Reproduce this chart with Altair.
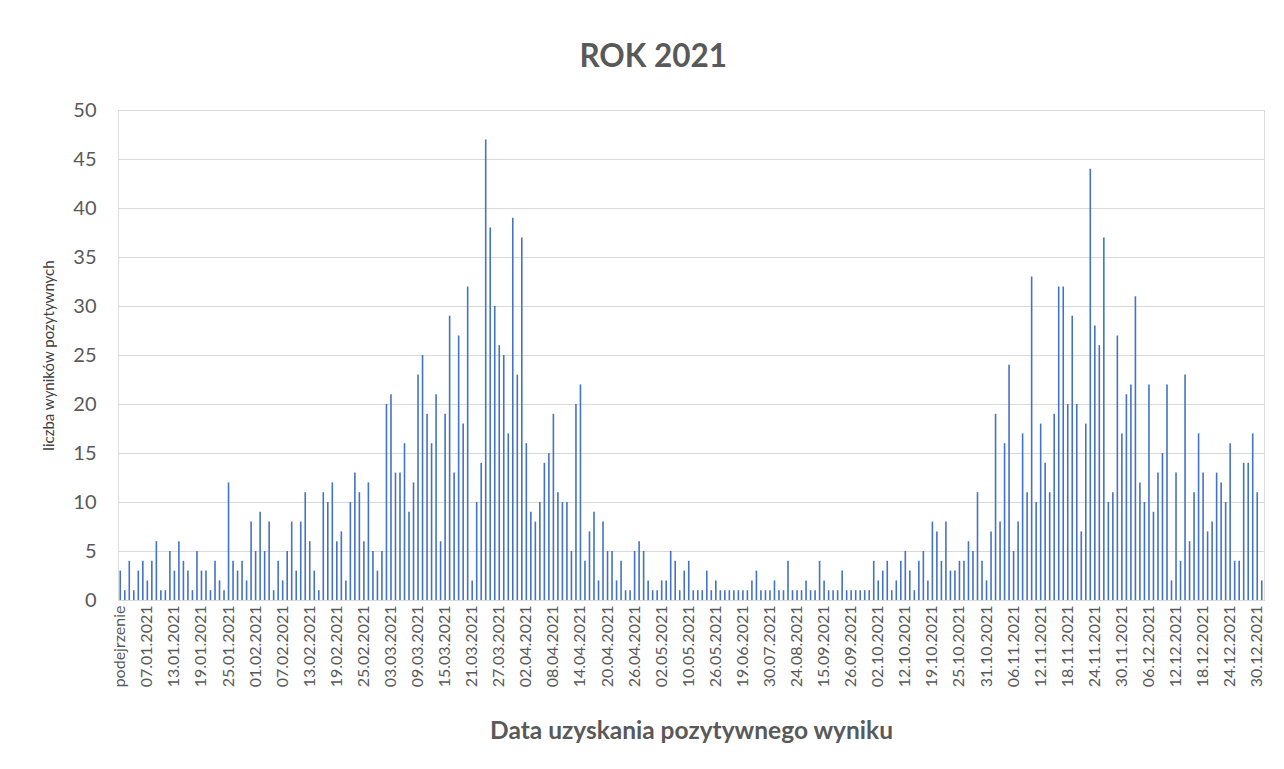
import datetime as dt
import altair as alt
import pandas as pd

# Tick labels shown on the x axis (every 6th category)
shown_labels = ["podejrzenie", "07.01.2021", "13.01.2021", "19.01.2021", "25.01.2021",
                "01.02.2021", "07.02.2021", "13.02.2021", "19.02.2021", "25.02.2021",
                "03.03.2021", "09.03.2021", "15.03.2021", "21.03.2021", "27.03.2021",
                "02.04.2021", "08.04.2021", "14.04.2021", "20.04.2021", "26.04.2021",
                "02.05.2021", "10.05.2021", "26.05.2021", "19.06.2021", "30.07.2021",
                "24.08.2021", "15.09.2021", "26.09.2021", "02.10.2021", "12.10.2021",
                "19.10.2021", "25.10.2021", "31.10.2021", "06.11.2021", "12.11.2021",
                "18.11.2021", "24.11.2021", "30.11.2021", "06.12.2021", "12.12.2021",
                "18.12.2021", "24.12.2021", "30.12.2021"]
last_label = "31.12.2021"

# Daily counts of positive results
vals_a = [3, 1, 4, 1, 3, 4, 2, 4, 6, 1, 1, 5, 3, 6, 4, 3, 1, 5, 3, 3, 1, 4, 2, 1, 12, 4, 3, 4, 2, 8, 5, 9]
vals_b = [5, 8, 1, 4, 2, 5, 8, 3, 8, 11, 6, 3, 1, 11, 10, 12, 6, 7, 2, 10, 13, 11, 6, 12, 5, 3, 5, 20, 21, 13, 13, 16]
vals_c = [9, 12, 23, 25, 19, 16, 21, 6, 19, 29, 13, 27, 18, 32, 2, 10, 14, 47, 38, 30, 26, 25, 17, 39, 23, 37, 16, 9, 8, 10, 14, 15]
vals_d = [19, 11, 10, 10, 5, 20, 22, 4, 7, 9, 2, 8, 5, 5, 2, 4, 1, 1, 5, 6, 5, 2, 1, 1, 2, 2, 5, 4, 1, 3, 4, 1, 1]
vals_e = [1, 3, 1, 2, 1, 1, 1, 1, 1, 1, 1, 2, 3, 1, 1, 1, 2, 1, 1, 4, 1, 1, 1, 2, 1, 1, 4, 2, 1, 1, 1, 3]
vals_f = [1, 1, 1, 1, 1, 1, 4, 2, 3, 4, 1, 2, 4, 5, 3, 1, 4, 5, 2, 8, 7, 4, 8, 3, 3, 4, 4, 6, 5, 11, 4, 2]
vals_g = [7, 19, 8, 16, 24, 5, 8, 17, 11, 33, 10, 18, 14, 11, 19, 32, 32, 20, 29, 20, 7, 18, 44, 28, 26, 37, 10, 11, 27, 17, 21, 22, 31]
vals_h = [12, 10, 22, 9, 13, 15, 22, 2, 13, 4, 23, 6, 11, 17, 13, 7, 8, 13, 12, 10, 16, 4, 4, 14, 14, 17, 11, 2]

values = vals_a + vals_b + vals_c + vals_d + vals_e + vals_f + vals_g + vals_h

# Category names: shown labels plus the (hidden) dates between them
def parse(s):
    return dt.datetime.strptime(s, "%d.%m.%Y").date()

categories = []
anchors = [dt.date(2021, 1, 1)] + [parse(s) for s in shown_labels[1:]]
for k in range(len(shown_labels) - 1):
    categories.append(shown_labels[k])
    a, b = anchors[k], anchors[k + 1]
    gap = (b - a).days
    for j in range(1, 6):
        d = a + dt.timedelta(days=round(j * gap / 6))
        categories.append(d.strftime("%d.%m.%Y"))
categories.append(shown_labels[-1])
categories.append(last_label)

df = pd.DataFrame({"data": categories[:len(values)], "liczba": values})

FONT = "Lato"
GREY = "#595959"

chart = alt.Chart(df).mark_bar(color="#4472C4", size=1.6).encode(
    x=alt.X("data:N", sort=categories,
            scale=alt.Scale(domain=categories, paddingInner=0, paddingOuter=0),
            axis=alt.Axis(values=shown_labels, labelAngle=-90, labelFontSize=16,
                          labelColor=GREY, labelFont=FONT, labelPadding=5,
                          labelOverlap=False, ticks=False, domainColor="#d9d9d9",
                          grid=False, title="Data uzyskania pozytywnego wyniku",
                          titleFontSize=24.5, titleFont=FONT, titleFontWeight="bold",
                          titleColor=GREY, titlePadding=33)),
    y=alt.Y("liczba:Q", scale=alt.Scale(domain=[0, 50], nice=False),
            axis=alt.Axis(values=list(range(0, 51, 5)), grid=True, gridColor="#d9d9d9",
                          domain=False, ticks=False, labelFontSize=20, labelColor=GREY,
                          labelFont=FONT, labelPadding=22,
                          title="liczba wyników pozytywnych", titleFontSize=15,
                          titleFont=FONT, titleFontWeight="normal", titleColor="#404040",
                          titlePadding=16)),
).properties(
    width=1146, height=490,
    title=alt.TitleParams("ROK 2021", fontSize=31.5, fontWeight="bold", color=GREY,
                          font=FONT, anchor="middle", frame="bounds", offset=27),
    padding={"left": 33, "top": 33, "right": 10, "bottom": 5},
).configure_view(stroke=None).configure(background="white")

chart.save("out.html", embed_options={"renderer": "svg", "actions": False})
